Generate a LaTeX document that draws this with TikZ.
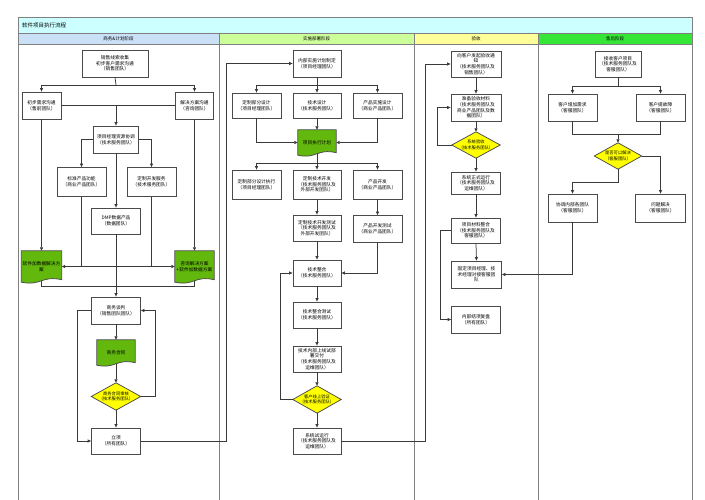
\documentclass[tikz,border=0pt]{standalone}
\usepackage{fontspec}
\setmainfont{Noto Sans CJK SC}
\usetikzlibrary{arrows.meta,calc,backgrounds}
\definecolor{titlefill}{HTML}{CCFFFF}
\definecolor{hdA}{HTML}{C9E0F7}
\definecolor{hdB}{HTML}{CCFF99}
\definecolor{hdC}{HTML}{FFFF99}
\definecolor{hdD}{HTML}{36E636}
\definecolor{docgreen}{HTML}{62B80C}
\definecolor{diayellow}{HTML}{FFFF00}
\definecolor{boxgray}{HTML}{4A4A4A}
\definecolor{linegray}{HTML}{3A3A3A}
\definecolor{framegray}{HTML}{808080}
\newcommand\fsz{\fontsize{4.7}{5.7}\selectfont}
\newcommand\fsd{\fontsize{4.3}{5.3}\selectfont}
\newcommand\docshape[1]{%
  \path[docfill] (#1.north west) -- (#1.north east) -- ([yshift=2.5pt]#1.south east)
    .. controls ($(#1.south)+(0,-7)$) and ($(#1.south)+(0,4)$) .. (#1.south west) -- cycle;}
\newcommand\diashape[1]{%
  \path[diafill] (#1.west) -- (#1.north) -- (#1.east) -- (#1.south) -- cycle;}
\begin{document}
\begin{tikzpicture}[x=1pt,y=-1pt,
  box/.style={draw=boxgray, line width=0.75pt, fill=white, inner sep=0pt, align=center, font=\fsz, minimum width=49pt, minimum height=27pt},
  docn/.style={inner sep=0pt, align=center, font=\fsz, minimum width=38pt, minimum height=25pt},
  dian/.style={inner sep=0pt, align=center, font=\fsd, minimum width=49pt, minimum height=27pt},
  ln/.style={draw=linegray, line width=0.75pt},
  arr/.style={ln, -{Triangle[length=3.5pt,width=3pt]}},
  docfill/.style={fill=docgreen, draw=boxgray, line width=0.75pt},
  diafill/.style={fill=diayellow, draw=boxgray, line width=0.75pt},
  frame/.style={draw=framegray, line width=0.8pt},
  hdr/.style={font=\fontsize{4.5}{5}\selectfont, inner sep=0pt}
]
\useasboundingbox (0,0) rectangle (705,500);
% frame
\fill[titlefill] (18,17) rectangle (692,33);
\fill[hdA] (18,33) rectangle (219,44);
\fill[hdB] (219,33) rectangle (414,44);
\fill[hdC] (414,33) rectangle (538,44);
\fill[hdD] (538,33) rectangle (692,44);
\draw[frame] (18,500) -- (18,17) -- (692,17) -- (692,500);
\draw[frame] (18,33) -- (692,33);
\draw[frame] (18,44) -- (692,44);
\draw[frame] (219,33) -- (219,500);
\draw[frame] (414,33) -- (414,500);
\draw[frame] (538,33) -- (538,500);
\node[anchor=west, font=\fontsize{5.5}{6}\selectfont, inner sep=0pt] (title) at (22,25) {软件项目执行流程};
\node[hdr] (hd1) at (118.5,38.5) {商务\&计划阶段};
\node[hdr] (hd2) at (316.5,38.5) {实施部署阶段};
\node[hdr] (hd3) at (476,38.5) {验收};
\node[hdr] (hd4) at (615,38.5) {售后阶段};

% ---- column 1 nodes
\node[box, minimum width=66pt] (a1) at (115,63.5) {销售线索收集\\初步客户需求沟通\\（销售团队）};
\node[box, minimum width=39pt] (b1) at (41.5,105.5) {初步需求沟通\\（售前团队）};
\node[box, minimum width=38pt] (b2) at (194.5,105.5) {解决方案沟通\\（咨询团队）};
\node[box, minimum width=45pt] (c1) at (116,139.5) {项目经理资源协调\\（技术服务团队）};
\node[box, minimum height=29pt] (d1) at (81.5,182) {标准产品功能\\（商业产品团队）};
\node[box, minimum height=29pt] (d2) at (151.5,182) {定制开发服务\\（技术服务团队）};
\node[box, minimum height=26pt] (e1) at (116,221) {DMP数据产品\\（数据团队）};
\node[docn, minimum width=40pt, minimum height=31pt] (f1) at (41.5,266.5) {软件加数据解决方\\案};
\node[docn, minimum width=39pt, minimum height=31pt] (f2) at (194.5,266.5) {咨询解决方案\\+软件加数据方案};
\node[box] (g1) at (116,310.5) {商务谈判\\（销售团队团队）};
\node[docn] (k1) at (116,352.5) {商务合同};
\node[dian] (m1) at (116,396.5) {商务合同审核\\（技术服务团队）};
\node[box, minimum height=26pt] (n1) at (116,441) {立项\\（所有团队）};

% ---- column 2 nodes
\node[box, minimum width=48pt] (p1) at (317,63.5) {内部实施计划制定\\（项目经理团队）};
\node[box, minimum height=25pt] (q1) at (256.5,105.5) {定制部分设计\\（项目经理团队）};
\node[box, minimum width=48pt, minimum height=25pt] (q2) at (317,105.5) {技术设计\\（技术服务团队）};
\node[box, minimum height=25pt] (q3) at (377.5,105.5) {产品实施设计\\（商业产品团队）};
\node[docn] (r1) at (317,142.5) {项目执行计划};
\node[box, minimum height=29pt] (s1) at (256.5,184.5) {定制部分设计执行\\（项目经理团队）};
\node[box, minimum width=48pt, minimum height=29pt] (s2) at (317,184.5) {定制技术开发\\（技术服务团队及\\外部开发团队）};
\node[box, minimum height=29pt] (s3) at (377.5,184.5) {产品开发\\（商业产品团队）};
\node[box, minimum width=48pt, minimum height=26pt] (t1) at (317,228) {定制技术开发测试\\（技术服务团队及\\外部开发团队）};
\node[box] (t2) at (377.5,229) {产品开发测试\\（商业产品团队）};
\node[box, minimum width=48pt, minimum height=26pt] (u1) at (317,273) {技术整合\\（技术服务团队）};
\node[box, minimum width=48pt, minimum height=26pt] (v1) at (317,315) {技术整合测试\\（技术服务团队）};
\node[box, minimum width=48pt, minimum height=26pt] (v2) at (317,359) {技术内部上线试部\\署交付\\（技术服务团队及\\运维团队）};
\node[dian, minimum width=48pt] (w1) at (317,399.5) {客户线上验证\\（技术服务团队）};
\node[box, minimum width=48pt, minimum height=26pt] (x1) at (317,441) {系统试运行\\（技术服务团队及\\运维团队）};

% ---- column 3 nodes
\node[box, minimum width=50pt, minimum height=26pt] (y1) at (476,64) {向客户发起验收通\\知\\（技术服务团队及\\销售团队）};
\node[box, minimum width=50pt] (y2) at (476,107.5) {准备验收材料\\（技术服务团队及\\商业产品团队及数\\据团队）};
\node[dian, minimum width=48pt, minimum height=26pt] (y3) at (476,145) {系统验收\\（技术服务团队）};
\node[box, minimum height=22pt] (y4) at (476,183) {系统正式运行\\（技术服务团队及\\运维团队）};
\node[box, minimum height=25pt] (y5) at (476,230.5) {项目材料整合\\（技术服务团队及\\客服团队）};
\node[box, minimum width=50pt] (y6) at (476.5,274.5) {固定项目经理、技\\术经理对接客服团\\队};
\node[box] (y7) at (476,319.5) {内部结项复盘\\（所有团队）};

% ---- column 4 nodes
\node[box, minimum width=46pt, minimum height=26pt] (z1) at (618,64) {接收客户项目\\（技术服务团队及\\客服团队）};
\node[box] (z2) at (572.5,107.5) {客户增加需求\\（客服团队）};
\node[box] (z3) at (660.5,107.5) {客户提故障\\（客服团队）};
\node[dian, minimum width=47pt, minimum height=26pt] (z4) at (618,156) {是否可以解决\\（客服团队）};
\node[box, minimum height=28pt] (z5) at (572.5,208) {协调内部各团队\\（客服团队）};
\node[box, minimum width=50pt, minimum height=28pt] (z6) at (660.5,208) {问题解决\\（客服团队）};

% ---- connectors column 1
\coordinate (j1) at (116,85);
\draw[ln] (a1.south) -- (j1);
\draw[arr] (j1) -| (b1.north);
\draw[arr] (j1) -| (b2.north);
\draw[ln] (b1.east) -- (b2.west);
\draw[arr] (c1.north |- b1.east) -- (c1.north);
\draw[arr] (c1.west) -| (d1.north);
\draw[arr] (c1.east) -| (d2.north);
\draw[arr] (c1.south) -- (e1.north);
\draw[arr] (b1.south) -- (f1.north);
\draw[arr] (b2.south) -- (f2.north);
\draw[arr] (d1.south) |- (f1.east);
\draw[arr] (d2.south) |- (f2.west);
\draw[ln] (d1.south |- f1.east) -- (d2.south |- f1.east);
\coordinate (j2) at (116,286);
\draw[ln] ([yshift=1.5pt]f1.south) |- (j2);
\draw[ln] ([yshift=1.5pt]f2.south) |- (j2);
\draw[arr] (e1.south) -- (g1.north);
\draw[arr] (g1.south) -- (k1.north);
\draw[arr] ([yshift=1.5pt]k1.south) -- (m1.north);
\draw[arr] (m1.south) -- (n1.north);
\draw[arr] (m1.east) -- ++(15,0) |- (g1.east);
\draw[arr] (g1.west) -- ++(-14,0) |- (n1.west);
\draw[arr] (n1.east) -| ([xshift=-66pt]p1.west) -- (p1.west);

% ---- connectors column 2
\coordinate (j3) at (317,85);
\draw[ln] (p1.south) -- (j3);
\draw[arr] (j3) -| (q1.north);
\draw[arr] (j3) -| (q3.north);
\draw[arr] (j3) -- (q2.north);
\draw[arr] (q1.south) |- (r1.west);
\draw[arr] (q2.south) -- (r1.north);
\draw[arr] (q3.south) |- (r1.east);
\coordinate (j4) at (317,163);
\draw[ln] ([yshift=1.5pt]r1.south) -- (j4);
\draw[arr] (j4) -| (s1.north);
\draw[arr] (j4) -| (s3.north);
\draw[arr] (j4) -- (s2.north);
\draw[arr] (s2.south) -- (t1.north);
\draw[arr] (s3.south) -- (t2.north);
\draw[arr] (t1.south) -- (u1.north);
\draw[arr] (t2.south) |- (u1.east);
\draw[arr] (u1.south) -- (v1.north);
\draw[arr] (v1.south) -- (v2.north);
\draw[arr] (v2.south) -- (w1.north);
\draw[arr] (w1.south) -- (x1.north);
\draw[arr] (w1.west) -- ++(-12,0) |- (u1.west);
\draw[arr] (x1.east) -| ([xshift=-25pt]y1.west) -- (y1.west);

% ---- connectors column 3
\draw[arr] (y1.south) -- (y2.north);
\draw[arr] (y2.south) -- (y3.north);
\draw[arr] (y3.south) -- (y4.north);
\draw[arr] (y4.south) -- (y5.north);
\draw[arr] (y5.south) -- (y6.north);
\draw[arr] (y3.west) -- ++(-14,0) |- (y2.west);
\draw[arr] (y5.west) -- ++(-11,0) |- (y7.west);

% ---- connectors column 4
\coordinate (j5) at (618,86);
\draw[ln] (z1.south) -- (j5);
\draw[arr] (j5) -| (z2.north);
\draw[arr] (j5) -| (z3.north);
\coordinate (j6) at (618,134);
\draw[ln] (z2.south) |- (j6);
\draw[ln] (z3.south) |- (j6);
\draw[arr] (j6) -- (z4.north);
\draw[arr] (z4.south) |- ($(z5.north)+(0,-11)$) -- (z5.north);
\draw[arr] (z4.east) -| (z6.north);
\draw[arr] (z5.south) |- (y6.east);

% ---- shapes under text
\begin{scope}[on background layer]
\fill[white] (0,0) rectangle (705,500);
\docshape{f1}
\docshape{f2}
\docshape{k1}
\docshape{r1}
\diashape{m1}
\diashape{w1}
\diashape{y3}
\diashape{z4}
\end{scope}
\end{tikzpicture}
\end{document}
